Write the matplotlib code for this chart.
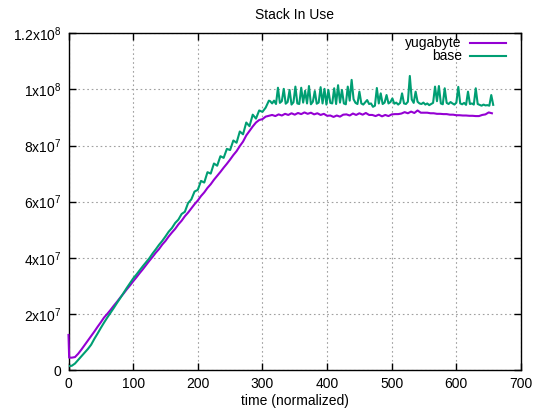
import matplotlib
matplotlib.use("Agg")
import matplotlib.pyplot as plt

plt.rcParams['font.family'] = ['Liberation Sans', 'DejaVu Sans']
plt.rcParams['mathtext.fontset'] = 'custom'
plt.rcParams['mathtext.rm'] = 'Liberation Sans'
plt.rcParams['mathtext.it'] = 'Liberation Sans'

# sample times
time_yugabyte = [0, 1] + list(range(5, 660, 5))
time_base = [0, 1] + list(range(5, 311, 5)) + list(range(312, 658, 3))

# values in units of 1e6
yugabyte_m = [
    12.5, 4.4, 4.4, 4.6, 5.8, 7.3, 8.9, 10.5, 12.1, 13.7, 15.4, 17.0, 18.7, 20.0,
    21.4, 22.9, 24.3, 25.8, 27.2, 28.7, 30.1, 31.6, 33.0, 34.5, 35.9, 37.4, 38.9,
    40.3, 41.8, 43.1, 44.7, 46.0, 47.6, 49.0, 50.3, 51.9, 53.2, 54.8, 56.1, 57.6,
    59.1, 60.4, 62.0, 63.3, 64.9, 66.2, 67.8, 69.2, 70.6, 72.1, 73.5, 75.0, 76.6,
    78.0, 79.8, 81.4, 83.6, 85.2, 86.8, 88.2, 89.1,
    89.4, 90.3, 90.6, 90.9, 90.5, 91.1, 90.7, 91.3, 90.9, 91.5,
    91.0, 91.6, 91.2, 91.8, 91.3, 91.7, 91.1, 91.5, 90.9, 91.3,
    90.6, 90.7, 90.2, 90.7, 90.3, 91.0, 91.1, 90.7, 91.4, 90.9,
    91.5, 91.0, 91.6, 90.9, 90.9, 90.5, 91.0, 90.4, 90.9, 90.5,
    91.1, 91.2, 91.2, 91.4, 91.9, 91.5, 92.1, 91.6, 92.5, 91.7,
    91.7, 91.7, 91.5, 91.5, 91.3, 91.3, 91.2, 91.2, 91.0, 91.0,
    90.8, 90.8, 90.7, 90.7, 90.6, 90.6, 90.5, 90.5, 90.9, 91.1,
    91.8, 91.5,
]

base_m = [
    1.4, 1.4, 1.5, 2.3, 3.6, 4.9, 6.2, 7.5, 9.0, 11.1, 13.0, 15.0, 16.9, 18.7,
    20.4, 22.1, 23.9, 25.6, 27.4, 29.2, 30.9, 32.6, 34.0, 35.5, 37.0, 38.4, 39.8,
    41.5, 43.0, 44.6, 46.0, 47.6, 49.3, 50.6, 52.4, 53.6, 55.6, 56.4, 59.5, 60.8,
    63.6, 64.2, 67.4, 66.8, 70.5, 70.0, 73.6, 72.8, 76.2, 75.6, 78.8, 78.4, 81.8,
    81.0, 85.0, 84.0, 88.2, 86.9, 91.0, 89.6, 92.5, 92.0, 93.5, 96.0,
    95.8, 95.0, 96.0, 94.8, 100.6, 95.2, 95.8, 100.2, 94.9, 95.5,
    99.8, 94.6, 95.4, 101.0, 95.0, 94.8, 100.6, 95.3, 99.5, 95.0,
    101.2, 94.7, 95.6, 99.4, 94.9, 95.3, 100.8, 95.0, 100.2, 94.6,
    99.8, 95.2, 95.0, 100.4, 94.8, 101.5, 95.3, 99.8, 95.0, 94.7,
    101.0, 96.0, 103.4, 96.5, 95.2, 94.8, 99.2, 95.0, 94.6, 95.4,
    96.2, 94.8, 95.0, 93.8, 94.2, 100.5, 95.0, 98.6, 94.8, 95.3,
    98.0, 95.0, 95.5, 96.8, 94.9, 95.3, 94.6, 95.2, 98.6, 95.0,
    94.8, 95.6, 104.8, 96.4, 95.2, 99.2, 95.6, 95.0, 94.8, 95.3,
    94.6, 95.0, 94.4, 94.8, 95.2, 101.0, 95.8, 101.2, 95.0, 94.7,
    100.4, 95.2, 94.8, 95.5, 95.0, 94.6, 95.3, 100.9, 95.0, 94.7,
    95.2, 94.5, 99.2, 94.8, 95.0, 94.6, 100.4, 94.8, 94.5, 94.2,
    94.6, 94.3, 94.4, 94.2, 98.0, 94.5,
]

yugabyte = [v * 1e6 for v in yugabyte_m]
base = [v * 1e6 for v in base_m]

series_names = ['yugabyte', 'base']
series_colors = ['#9400d3', '#009e73']

x_ticks = [0, 100, 200, 300, 400, 500, 600, 700]
y_ticks = [0, 2e7, 4e7, 6e7, 8e7, 1e8, 1.2e8]
y_tick_labels = ['0', r'2x10$^{7}$', r'4x10$^{7}$', r'6x10$^{7}$', r'8x10$^{7}$',
                 r'1x10$^{8}$', r'1.2x10$^{8}$']

fig = plt.figure(figsize=(5.37, 4.12), dpi=100)
ax = fig.add_axes([68.5 / 537, 42 / 412, (521 - 68.5) / 537, (370 - 33.3) / 412])

ax.plot(time_yugabyte, yugabyte, color=series_colors[0], lw=1.5, zorder=3,
        clip_on=False)
ax.plot(time_base, base, color=series_colors[1], lw=1.5, zorder=3)

ax.set_xlim(0, 700)
ax.set_ylim(0, 1.2e8)
ax.set_xticks(x_ticks)
ax.set_xticklabels([str(t) for t in x_ticks])
ax.set_yticks(y_ticks)
ax.set_yticklabels(y_tick_labels)
ax.tick_params(direction='in', length=5, width=1, top=True, right=True,
               labelsize=10, colors='black', pad=5)
ax.grid(True, color='#a0a0a0', linestyle=(0, (1.5, 2.5)), lw=0.8)
for s in ax.spines.values():
    s.set_linewidth(1)
    s.set_color('black')

ax.set_title('Stack In Use', fontsize=10, pad=10)
ax.set_xlabel('time (normalized)', fontsize=10, labelpad=2)

# key (legend) in the upper right, gnuplot style: right-aligned text then sample
key_rows_y = [0.971, 0.933]
for name, color, yy in zip(series_names, series_colors, key_rows_y):
    ax.text(0.869, yy, name, transform=ax.transAxes, ha='right', va='center',
            fontsize=10)
    ax.plot([0.887, 0.966], [yy, yy], transform=ax.transAxes, color=color,
            lw=1.5, clip_on=False)

fig.savefig('out.png', dpi=100)
